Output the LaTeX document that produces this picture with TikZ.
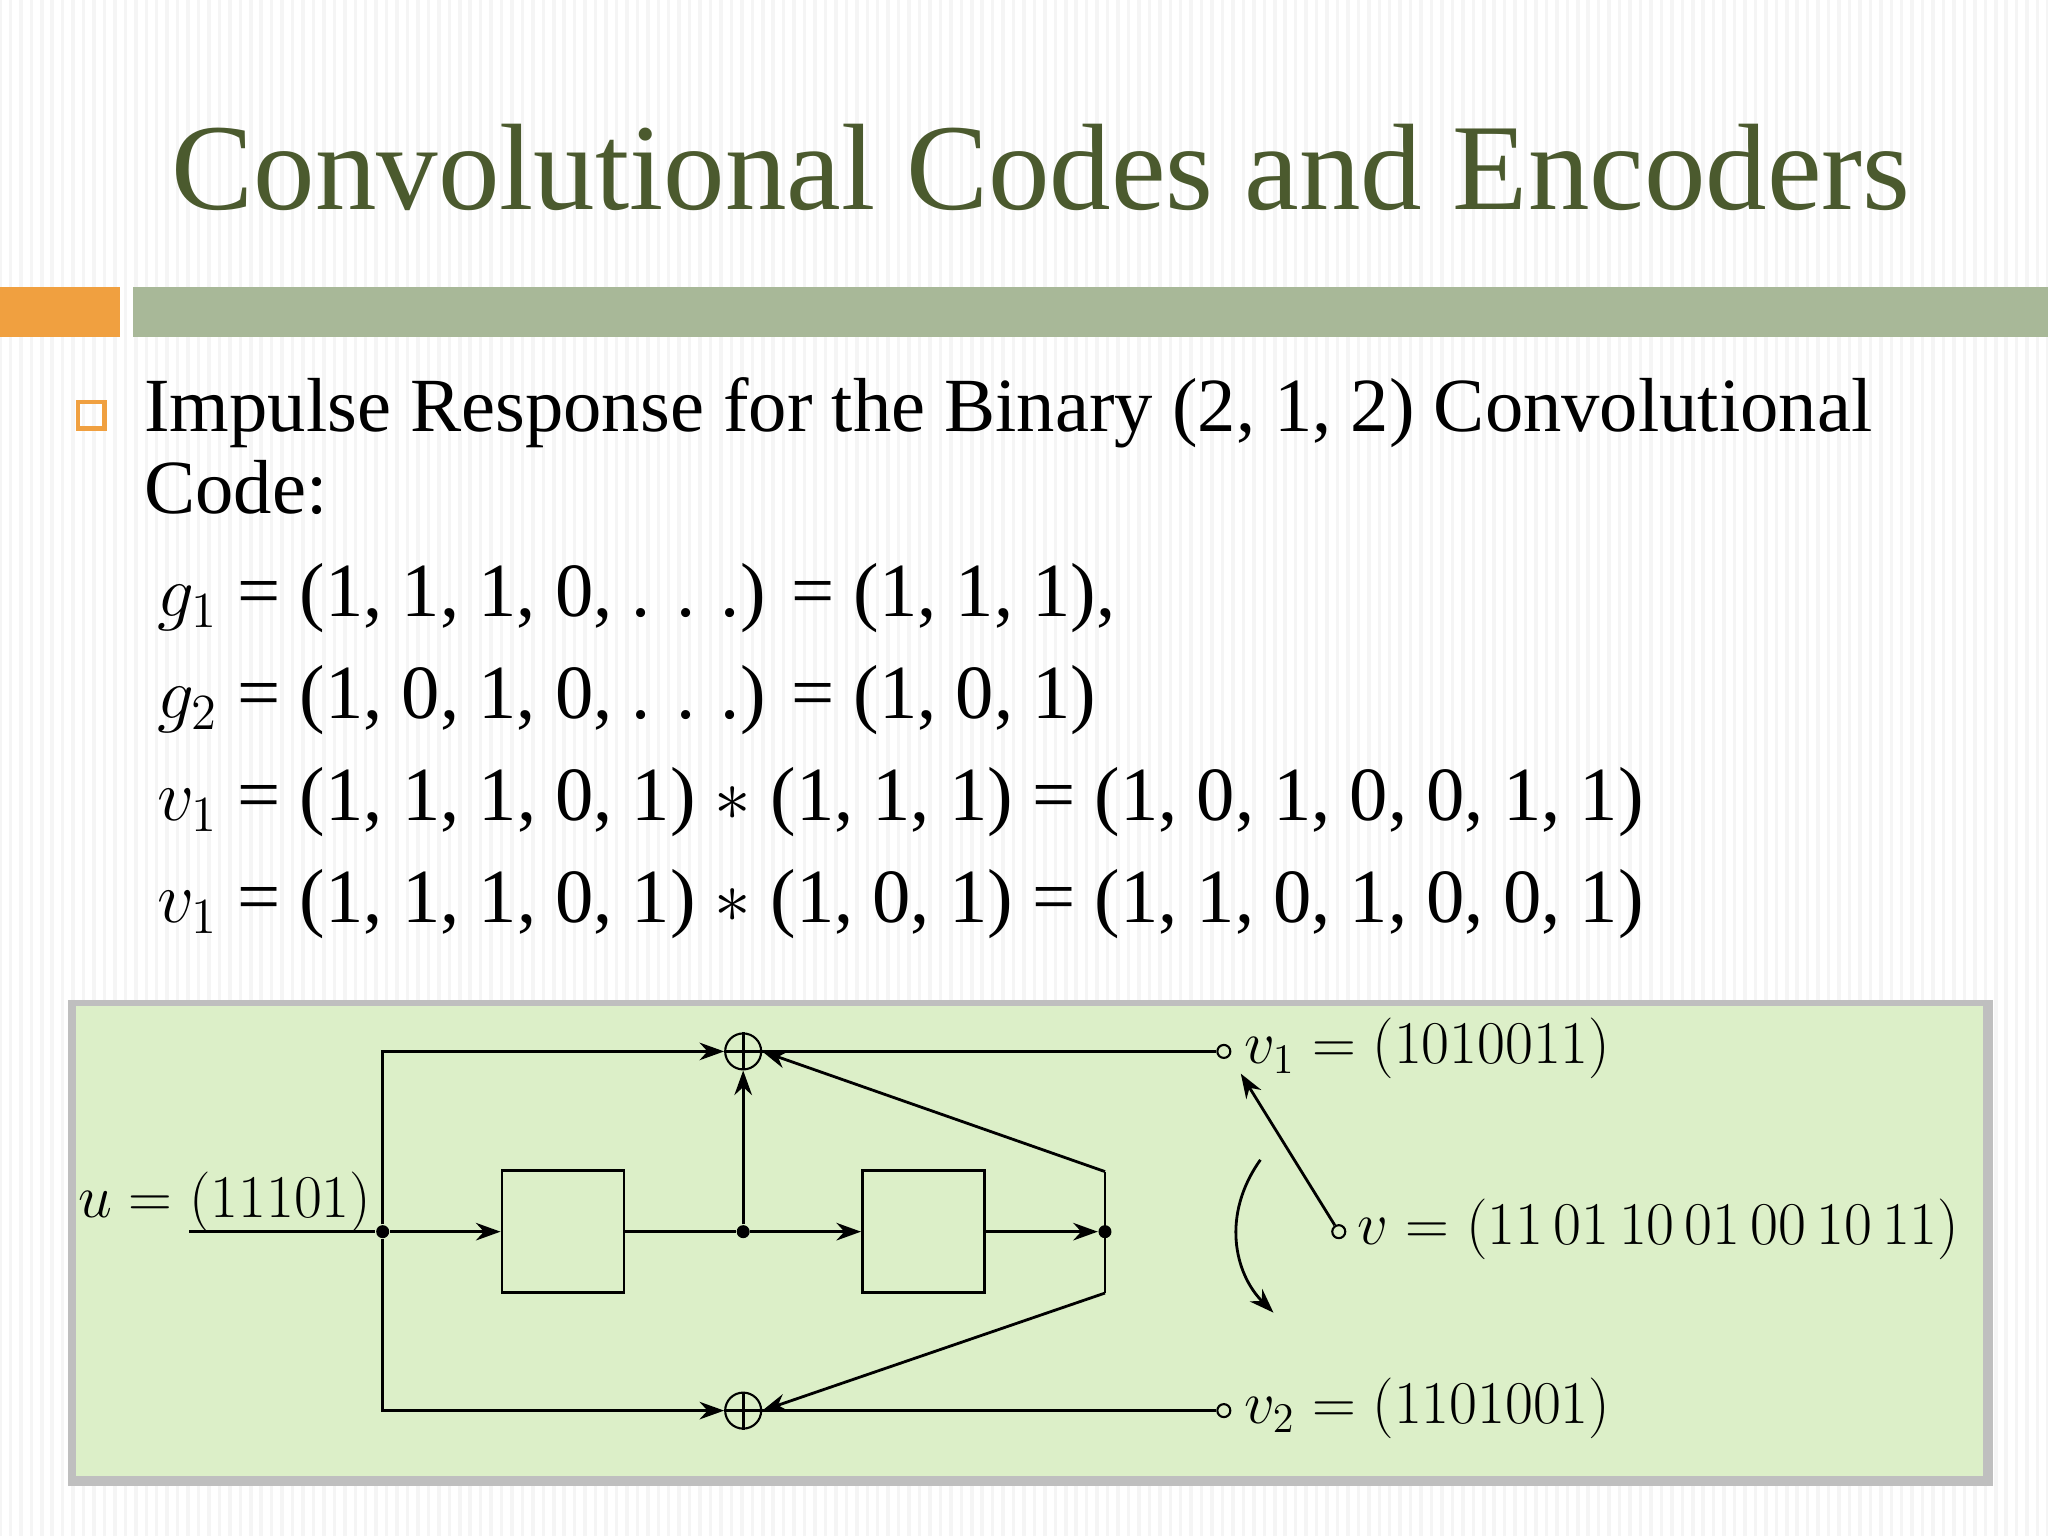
\documentclass[tikz,border=0pt]{standalone}
\usepackage{fontspec}
\setmainfont{Liberation Serif}
\usetikzlibrary{arrows.meta}
\definecolor{titlec}{HTML}{4B5A2E}
\definecolor{orangec}{HTML}{F0A040}
\definecolor{barc}{HTML}{A8B898}
\definecolor{boxc}{HTML}{DCEFC8}
\tikzset{
 reg/.style={draw,line width=0.8pt,minimum width=1.22cm,minimum height=1.22cm,inner sep=0},
 add/.style={draw,circle,line width=0.6pt,minimum size=0.36cm,inner sep=0},
 term/.style={draw,circle,line width=0.6pt,minimum size=0.13cm,inner sep=0},
 dot/.style={fill,circle,minimum size=0.13cm,inner sep=0},
 wire/.style={line width=0.8pt},
 arr/.style={wire,-{Stealth[length=7pt,width=5pt]}},
 eq/.style={anchor=base west,inner sep=0,font=\fontsize{21.8}{26}\selectfont},
 lab/.style={anchor=west,font=\fontsize{18.5}{22}\selectfont}
}
\begin{document}
\begin{tikzpicture}[x=0.01306cm,y=-0.01306cm]
\useasboundingbox (0,0) rectangle (1568,1176);
\fill[white] (0,0) rectangle (1568,1176);
\foreach \i in {0,8,...,1568} \draw[black!4,line width=1pt] (\i,0) -- (\i,1176);
\node[font=\fontsize{35}{40}\selectfont,text=titlec] (title) at (797,128) {Convolutional Codes and Encoders};
\fill[orangec] (0,220) rectangle (92,258);
\fill[barc] (102,220) rectangle (1568,258);
\draw[orangec,line width=1.2pt] (60,308) rectangle (80,328);
\node[eq] (t1) at (110,330) {Impulse Response for the Binary (2, 1, 2) Convolutional};
\node[eq] (t2) at (110,393) {Code:};
\node[eq] (e1) at (120,472) {$g_1$ = (1, 1, 1, 0, . . .) = (1, 1, 1),};
\node[eq] (e2) at (120,550) {$g_2$ = (1, 0, 1, 0, . . .) = (1, 0, 1)};
\node[eq] (e3) at (120,628) {$v_1$ = (1, 1, 1, 0, 1) $*$ (1, 1, 1) = (1, 0, 1, 0, 0, 1, 1)};
\node[eq] (e4) at (120,706) {$v_1$ = (1, 1, 1, 0, 1) $*$ (1, 0, 1) = (1, 1, 0, 1, 0, 0, 1)};
% green panel
\fill[black!25] (52,766) rectangle (1526,1138);
\fill[boxc] (58,770) rectangle (1518,1130);
% circuit
\node[reg] (r1) at (431,943) {};
\node[reg] (r2) at (707,943) {};
\node[dot] (j0) at (293,943) {};
\node[dot] (j1) at (569,943) {};
\node[dot] (j2) at (846,943) {};
\node[add] (a1) at (569,805) {};
\node[add] (a2) at (569,1080) {};
\draw[wire] (a1.north) -- (a1.south) (a1.west) -- (a1.east);
\draw[wire] (a2.north) -- (a2.south) (a2.west) -- (a2.east);
\node[term] (o1) at (937,805) {};
\node[term] (o2) at (937,1080) {};
\node[term] (o3) at (1025,943) {};
\coordinate (sw) at (950,822);
\coordinate (rt) at (846,897);
\coordinate (rb) at (846,990);
\node[lab,anchor=base east] (u) at (294,932) {$u=(11101)$};
\coordinate (uin) at (145,943);
\draw[wire] (uin) -- (j0);
\draw[arr] (j0) -- (r1.west);
\draw[wire] (r1.east) -- (j1);
\draw[arr] (j1) -- (r2.west);
\draw[arr] (r2.east) -- (j2);
\draw[arr] (j1) -- (a1.south);
\draw[arr] (j0) |- (a1.west);
\draw[arr] (j0) |- (a2.west);
\draw[wire] (rt) -- (rb);
\draw[arr] (rt) -- (a1.east);
\draw[arr] (rb) -- (a2.east);
\draw[wire] (a1.east) -- (o1.west);
\draw[wire] (a2.east) -- (o2.west);
\draw[arr] (o3) -- (sw);
\draw[arr] (965,888) .. controls (935,930) and (945,975) .. (975,1005);
\node[lab] (l1) at (943,803) {$v_1=(1010011)$};
\node[lab] (l2) at (943,1078) {$v_2=(1101001)$};
\node[lab] (l3) at (1030,941) {$v=(11\,01\,10\,01\,00\,10\,11)$};
\end{tikzpicture}
\end{document}
